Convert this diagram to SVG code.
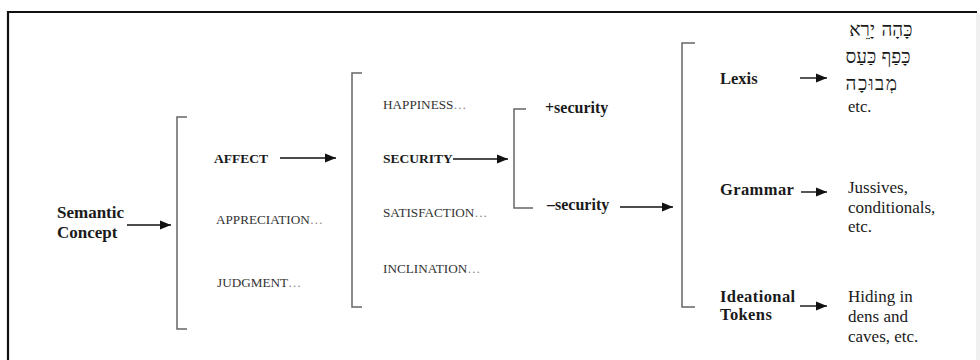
<svg xmlns="http://www.w3.org/2000/svg" width="980" height="360" viewBox="0 0 980 360">
<style>
text{font-family:"Liberation Serif","Times New Roman","DejaVu Serif",serif;fill:#1a1a1a}
.b{font-weight:bold}
.sc{font-size:13.2px;fill:#333}
.dots{fill:#888}
.br{fill:none;stroke:#666;stroke-width:1.5}
.ar{fill:none;stroke:#111;stroke-width:1.4;marker-end:url(#ah)}
.he{font-size:19px;text-anchor:middle}
</style>
<defs>
<marker id="ah" markerUnits="userSpaceOnUse" markerWidth="12" markerHeight="10" refX="11" refY="5" orient="auto">
<path d="M0,0.5 L11,5 L0,9.5 Z" fill="#111"/>
</marker>
</defs>
<rect x="0" y="0" width="980" height="360" fill="#fff"/>
<path d="M8,360 V12 H977" fill="none" stroke="#111" stroke-width="2.2"/>
<rect x="976" y="13" width="4" height="347" fill="#f0f0f0"/>

<g id="semantic">
<text class="b" x="57" y="218" font-size="17">Semantic</text>
<text class="b" x="57" y="238" font-size="17">Concept</text>
</g>
<g id="bracket1"><path class="br" d="M187,117 H177 V329 H187"/></g>
<g id="affect"><text class="b" x="214" y="163" font-size="13.5">AFFECT</text></g>
<g id="appreciation"><text class="sc" x="216" y="224">APPRECIATION<tspan class="dots">…</tspan></text></g>
<g id="judgment"><text class="sc" x="217" y="287">JUDGMENT<tspan class="dots">…</tspan></text></g>

<g id="bracket2"><path class="br" d="M362,73 H352 V307 H362"/></g>
<g id="happiness"><text class="sc" x="383" y="109">HAPPINESS<tspan class="dots">…</tspan></text></g>
<g id="security"><text class="b" x="383" y="163" font-size="13.5">SECURITY</text></g>
<g id="satisfaction"><text class="sc" x="383" y="217">SATISFACTION<tspan class="dots">…</tspan></text></g>
<g id="inclination"><text class="sc" x="383" y="273">INCLINATION<tspan class="dots">…</tspan></text></g>

<g id="bracket3"><path class="br" d="M526,109 H514 V208 H533"/></g>
<g id="plus-security"><text class="b" x="545" y="113" font-size="16">+security</text></g>
<g id="minus-security"><text class="b" x="547" y="210" font-size="16">–security</text></g>

<g id="bracket4"><path class="br" d="M695,43 H682 V307 H695"/></g>
<g id="lexis"><text class="b" x="720" y="84" font-size="16.5">Lexis</text></g>
<g id="grammar"><text class="b" x="720" y="195" font-size="16.5" letter-spacing="0.4">Grammar</text></g>
<g id="ideational">
<text class="b" x="720" y="302" font-size="16.5" letter-spacing="0.4">Ideational</text>
<text class="b" x="720" y="320" font-size="16.5" letter-spacing="0.4">Tokens</text>
</g>

<g id="hebrew">
<text class="he" x="862" y="36">יָרֵא</text>
<text class="he" x="897" y="36">כָּהָה</text>
<text class="he" x="861" y="63">כַּעַס</text>
<text class="he" x="896" y="63">כָּפַף</text>
<text class="he" x="872" y="90" letter-spacing="1.5">מְבוּכָה</text>
<text x="848" y="112" font-size="16.5">etc.</text>
</g>
<g id="jussives">
<text x="848" y="193" font-size="17">Jussives,</text>
<text x="848" y="213" font-size="17">conditionals,</text>
<text x="848" y="232" font-size="17">etc.</text>
</g>
<g id="hiding">
<text x="848" y="302" font-size="17">Hiding in</text>
<text x="848" y="322" font-size="17">dens and</text>
<text x="848" y="342" font-size="17">caves, etc.</text>
</g>

<g id="connectors">
<line class="ar" x1="127" y1="225" x2="171" y2="225"/>
<line class="ar" x1="280" y1="158" x2="336" y2="158"/>
<line class="ar" x1="453" y1="159" x2="508" y2="159"/>
<line class="ar" x1="620" y1="207" x2="673" y2="207"/>
<line class="ar" x1="800" y1="78" x2="827" y2="78"/>
<line class="ar" x1="801" y1="192" x2="827" y2="192"/>
<line class="ar" x1="800" y1="306" x2="827" y2="306"/>
</g>
</svg>
